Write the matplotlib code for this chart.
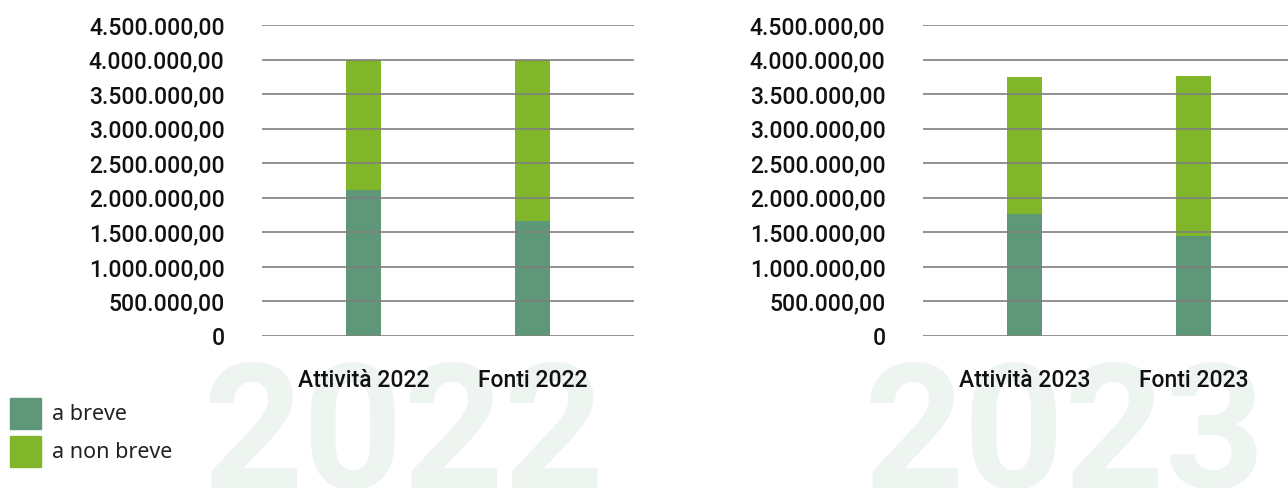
import matplotlib
matplotlib.use("Agg")
import matplotlib.pyplot as plt
from matplotlib.patches import Rectangle
from matplotlib.ticker import FuncFormatter, MultipleLocator

# values (euro)
categories_2022 = ["Attività 2022", "Fonti 2022"]
categories_2023 = ["Attività 2023", "Fonti 2023"]
breve_2022 = [2_113_000, 1_664_000]
non_breve_2022 = [1_881_000, 2_331_000]
breve_2023 = [1_766_000, 1_452_000]
non_breve_2023 = [1_982_000, 2_311_000]
series_labels = ["a breve", "a non breve"]

COL_BREVE = "#5f9879"
COL_NON_BREVE = "#82b62a"
GRID = "#7f7f7f"
WATERMARK = "#eef4f0"

W, H = 1288, 488
plt.rcParams["font.family"] = ["Roboto", "DejaVu Sans"]


def it_fmt(v, _pos):
    if v == 0:
        return "0"
    s = f"{v:,.2f}"
    return s.replace(",", "X").replace(".", ",").replace("X", ".")


def draw_panel(ax, cats, breve, non_breve):
    x = range(len(cats))
    ax.bar(x, breve, width=0.21, color=COL_BREVE, zorder=1)
    ax.bar(x, non_breve, width=0.21, bottom=breve, color=COL_NON_BREVE, zorder=1)
    ax.set_xlim(-0.6, 1.6)
    ax.set_ylim(0, 4_500_000)
    ax.yaxis.set_major_locator(MultipleLocator(500_000))
    ax.yaxis.set_major_formatter(FuncFormatter(it_fmt))
    ax.set_xticks(list(x))
    ax.set_xticklabels(cats)
    ax.set_axisbelow(False)
    ax.yaxis.grid(True, color=GRID, linewidth=1.2, zorder=3)
    for sp in ax.spines.values():
        sp.set_visible(False)
    ax.tick_params(axis="y", length=0, pad=27, labelsize=16.5, labelcolor="#111111")
    ax.tick_params(axis="x", length=0, pad=24, labelsize=16.5, labelcolor="#111111")
    for lbl in ax.get_yticklabels() + ax.get_xticklabels():
        lbl.set_fontweight("medium")
    ax.patch.set_alpha(0)


fig = plt.figure(figsize=(W / 100, H / 100), dpi=100)

ax_bottom = (H - 336) / H
ax_height = (336 - 25) / H
ax1 = fig.add_axes([262 / W, ax_bottom, 372 / W, ax_height])
ax2 = fig.add_axes([923 / W, ax_bottom, 372 / W, ax_height])
draw_panel(ax1, categories_2022, breve_2022, non_breve_2022)
draw_panel(ax2, categories_2023, breve_2023, non_breve_2023)

# big pale year watermarks behind the panels
fig.text(404 / W, 0.0, "2022", fontsize=126, fontweight="bold", color=WATERMARK,
         ha="center", va="baseline", zorder=-1)
fig.text(1065 / W, 0.0, "2023", fontsize=126, fontweight="bold", color=WATERMARK,
         ha="center", va="baseline", zorder=-1)

# legend: square swatches with labels, bottom left
for i, (lab, col) in enumerate(zip(series_labels, [COL_BREVE, COL_NON_BREVE])):
    top = 398 + 38 * i
    fig.add_artist(Rectangle((10 / W, 1 - (top + 31) / H), 31 / W, 31 / H,
                             transform=fig.transFigure, color=col))
    fig.text(52 / W, 1 - (top + 16) / H, lab, fontsize=15.5, color="#222222",
             family=["Noto Sans", "DejaVu Sans"], ha="left", va="center")

fig.savefig("out.png", dpi=100)
